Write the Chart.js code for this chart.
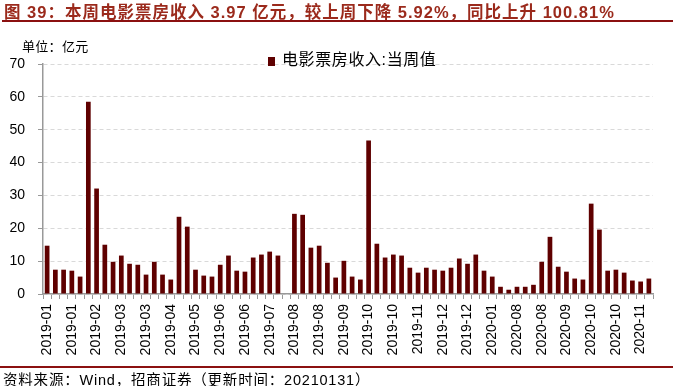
<!DOCTYPE html>
<html>
<head>
<meta charset="utf-8">
<script src="https://cdn.jsdelivr.net/npm/chart.js@4.4.1/dist/chart.umd.min.js"></script>
<style>
  html, body { margin: 0; padding: 0; background: #fff; }
  #wrap { position: relative; width: 673px; height: 386px; overflow: hidden;
    font-family: "Liberation Sans", "Noto Sans CJK SC", sans-serif; }
  #chart { position: absolute; left: 0; top: 0; }
  .title { position: absolute; left: 4px; top: -1px; font-size: 16.5px; font-weight: bold;
    color: #9b2a1c; white-space: nowrap; letter-spacing: 1px; }
  .rule { position: absolute; left: 2px; right: 0; height: 2px; background: #8b1010; }
  .unit { position: absolute; left: 22px; top: 36px; font-size: 13px; color: #000; letter-spacing: 0.3px; }
  .legend { position: absolute; left: 268px; top: 46px; font-size: 16px; color: #000;
    white-space: nowrap; letter-spacing: 0.6px; }
  .legend i { display: inline-block; width: 7px; height: 9px; background: #5f0000;
    margin-right: 7px; vertical-align: -1px; }
  .source { position: absolute; left: 3px; top: 368px; font-size: 14.5px; color: #000;
    white-space: nowrap; letter-spacing: 0.8px; }
</style>
</head>
<body>
<div id="wrap">
  <canvas id="chart" width="673" height="386"></canvas>
  <div class="title">图 39：本周电影票房收入 3.97 亿元，较上周下降 5.92%，同比上升 100.81%</div>
  <div class="rule" style="top:20px"></div>
  <div class="unit">单位：亿元</div>
  <div class="legend"><i></i>电影票房收入:当周值</div>
  <div class="rule" style="top:366px; left:0"></div>
  <div class="source">资料来源：Wind，招商证券（更新时间：20210131）</div>
</div>
<script>
// weekly periods (month of each week)
const weeks = [
  "2019-01", "2019-01", "2019-01", "2019-01",
  "2019-02", "2019-02", "2019-02", "2019-02",
  "2019-03", "2019-03", "2019-03", "2019-03", "2019-03",
  "2019-04", "2019-04", "2019-04", "2019-04",
  "2019-05", "2019-05", "2019-05", "2019-05",
  "2019-06", "2019-06", "2019-06", "2019-06", "2019-06",
  "2019-07", "2019-07", "2019-07", "2019-07",
  "2019-08", "2019-08", "2019-08", "2019-08",
  "2019-09", "2019-09", "2019-09", "2019-09", "2019-09",
  "2019-10", "2019-10", "2019-10", "2019-10",
  "2019-11", "2019-11", "2019-11", "2019-11",
  "2019-12", "2019-12", "2019-12", "2019-12", "2019-12",
  "2020-01", "2020-01", "2020-01", "2020-01",
  "2020-07",
  "2020-08", "2020-08", "2020-08", "2020-08", "2020-08",
  "2020-09", "2020-09", "2020-09", "2020-09",
  "2020-10", "2020-10", "2020-10", "2020-10",
  "2020-11", "2020-11", "2020-11", "2020-11"
];

// 电影票房收入:当周值 (亿元)
const boxOffice = [
  14.7, 7.4, 7.4, 7.1, 5.3, 58.5, 32.1, 15.0, 9.8, 11.7,
  9.2, 8.9, 5.9, 9.8, 5.9, 4.4, 23.5, 20.5, 7.4, 5.6,
  5.3, 8.9, 11.7, 7.1, 6.8, 11.1, 12.0, 12.9, 11.7, 0,
  24.4, 24.1, 14.1, 14.7, 9.5, 5.0, 10.1, 5.3, 4.4, 46.7,
  15.3, 11.1, 12.0, 11.7, 8.0, 6.5, 8.0, 7.4, 7.1, 8.0,
  10.8, 9.2, 12.0, 7.1, 5.3, 2.2, 1.3, 2.2, 2.2, 2.8,
  9.8, 17.4, 8.3, 6.8, 4.7, 4.4, 27.5, 19.6, 7.1, 7.4,
  6.5, 4.1, 3.8, 4.7
];

const yTicks = [0, 10, 20, 30, 40, 50, 60, 70];
const LABEL_EVERY = 3;

const tickFont = { family: "'Liberation Sans', Arial, sans-serif", size: 14 };

new Chart(document.getElementById("chart"), {
  type: "bar",
  data: {
    labels: weeks,
    datasets: [{
      label: "电影票房收入:当周值",
      data: boxOffice,
      backgroundColor: "#5f0000",
      borderWidth: 0,
      barPercentage: 0.57,
      categoryPercentage: 1
    }]
  },
  options: {
    responsive: false,
    animation: false,
    layout: { padding: { left: 0, right: 20, top: 64, bottom: 22 } },
    plugins: {
      legend: { display: false },
      title: { display: false },
      tooltip: { enabled: false }
    },
    scales: {
      x: {
        afterFit: (scale) => { scale.height = 70; },
        grid: {
          drawOnChartArea: false,
          drawTicks: true,
          tickLength: 5,
          tickColor: "#999999",
          offset: true
        },
        border: { color: "#999999", width: 1.5 },
        ticks: {
          autoSkip: false,
          minRotation: 90,
          maxRotation: 90,
          padding: 5,
          color: "#000",
          font: tickFont,
          callback: function (value, index) {
            return index % LABEL_EVERY === 0 ? this.getLabelForValue(value) : "";
          }
        }
      },
      y: {
        min: yTicks[0],
        max: yTicks[yTicks.length - 1],
        afterFit: (scale) => { scale.width = 43; },
        afterBuildTicks: (scale) => { scale.ticks = yTicks.map((v) => ({ value: v })); },
        grid: {
          color: "#d9d9d9",
          tickColor: "#999999",
          tickLength: 5,
          tickBorderDash: [],
          lineWidth: 1
        },
        border: { color: "#999999", width: 1.5, dash: [4, 3] },
        ticks: {
          padding: 13,
          color: "#000",
          font: tickFont
        }
      }
    }
  }
});
</script>
</body>
</html>
